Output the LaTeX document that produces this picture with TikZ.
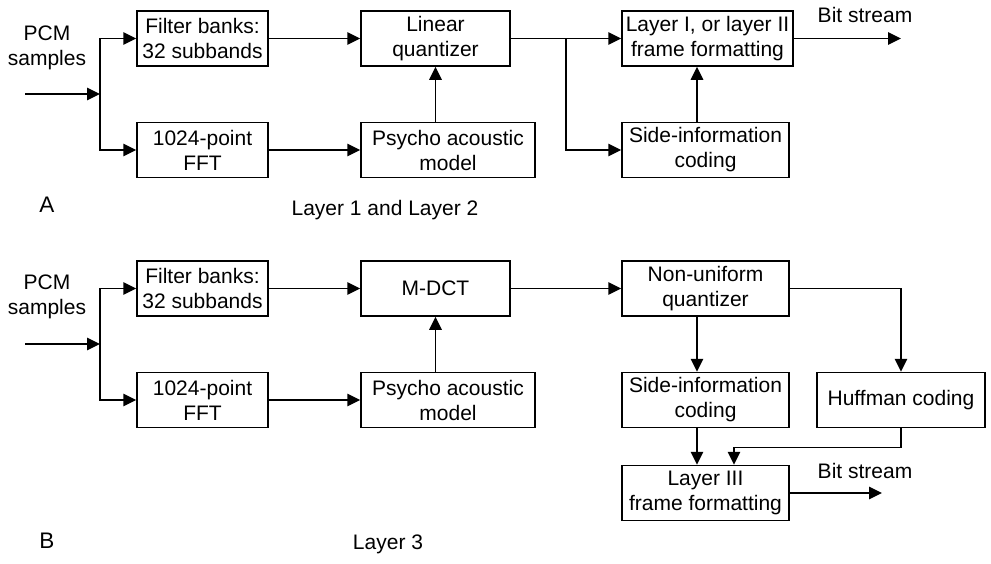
\documentclass[tikz,border=0pt]{standalone}
\usepackage{fontspec}
\setmainfont{Liberation Sans}
\usetikzlibrary{arrows.meta}
\newcommand\fsz{\fontsize{21}{25}\selectfont}
\newcommand\fbig{\fontsize{22.5}{26}\selectfont}
\begin{document}
\begin{tikzpicture}[x=1pt,y=-1pt,
  box/.style={draw, line width=1.5pt, inner sep=0pt, align=center, font=\fsz, minimum height=55pt},
  arr/.style={-{Triangle[length=13pt,width=12.5pt]}, line width=1.5pt},
  lbl/.style={font=\fsz, align=center, inner sep=0pt}]
\useasboundingbox (0,0) rectangle (991,563);
% ---------- A ----------
\node[box, minimum width=131pt] (fbA) at (202.5,38.5) {Filter banks:\\32 subbands};
\node[box, minimum width=131pt] (fftA) at (202.5,150) {1024-point\\FFT};
\node[box, minimum width=149pt] (lqA) at (435.5,38.5) {Linear\\quantizer};
\node[box, minimum width=174pt] (psyA) at (448,150) {Psycho acoustic\\model};
\node[box, minimum width=171pt] (l12A) at (707.5,38.5) {Layer I, or layer II\\frame formatting};
\node[box, minimum width=167pt] (sideA) at (705.5,150) {Side-information\\coding};
\node[lbl] (pcmA) at (47,47.5) {PCM\\samples};
\node[lbl, font=\fbig] (labA) at (47,205) {A};
\node[lbl] (capA) at (385,210) {Layer 1 and Layer 2};
\node[lbl] (bsA) at (865,15) {Bit stream};
\coordinate (inA) at (25,94);
\coordinate (brA) at (100,94);
\coordinate (bA) at (566,38.5);
\coordinate (outA) at (901,38.5);
\draw[arr] (inA) -- (brA);
\draw[arr] (brA) |- (fbA.west);
\draw[arr] (brA) |- (fftA.west);
\draw[arr] (fbA.east) -- (lqA.west);
\draw[arr] (fftA.east) -- (psyA.west);
\draw[arr] (psyA.north -| lqA.south) -- (lqA.south);
\draw[arr] (lqA.east) -- (l12A.west);
\draw[arr] (bA) |- (sideA.west);
\draw[arr] ([xshift=-8.5pt]sideA.north) -- ([xshift=-8.5pt]sideA.north |- l12A.south);
\draw[arr] (l12A.east) -- (outA);
% ---------- B ----------
\node[box, minimum width=131pt] (fbB) at (202.5,288.5) {Filter banks:\\32 subbands};
\node[box, minimum width=131pt] (fftB) at (202.5,400) {1024-point\\FFT};
\node[box, minimum width=149pt] (mdct) at (435.5,288.5) {M-DCT};
\node[box, minimum width=174pt] (psyB) at (448,400) {Psycho acoustic\\model};
\node[box, minimum width=167pt] (nuq) at (705.5,288.5) {Non-uniform\\quantizer};
\node[box, minimum width=167pt] (sideB) at (705.5,400) {Side-information\\coding};
\node[box, minimum width=168pt] (huff) at (901,400) {Huffman coding};
\node[box, minimum width=167pt] (l3) at (705.5,493) {Layer III\\frame formatting};
\node[lbl] (pcmB) at (47,297) {PCM\\samples};
\node[lbl, font=\fbig] (labB) at (47,541) {B};
\node[lbl] (capB) at (388,544) {Layer 3};
\node[lbl] (bsB) at (865,471) {Bit stream};
\coordinate (inB) at (25,344);
\coordinate (brB) at (100,344);
\coordinate (outB) at (882,493);
\draw[arr] (inB) -- (brB);
\draw[arr] (brB) |- (fbB.west);
\draw[arr] (brB) |- (fftB.west);
\draw[arr] (fbB.east) -- (mdct.west);
\draw[arr] (fftB.east) -- (psyB.west);
\draw[arr] (psyB.north -| mdct.south) -- (mdct.south);
\draw[arr] (mdct.east) -- (nuq.west);
\draw[arr] (nuq.east) -| (huff.north);
\draw[arr] ([xshift=-8.5pt]nuq.south) -- ([xshift=-8.5pt]sideB.north);
\draw[arr] ([xshift=-8.5pt]sideB.south) -- ([xshift=-8.5pt]l3.north);
\draw[arr] (huff.south) -- ++(0,19) -| ([xshift=28.5pt]l3.north);
\draw[arr] (l3.east) -- (outB);
\end{tikzpicture}
\end{document}
